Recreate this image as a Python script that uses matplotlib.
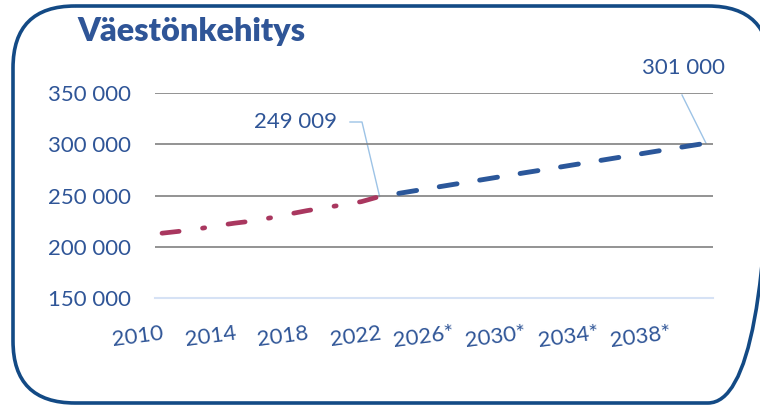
import numpy as np
import matplotlib
matplotlib.use("Agg")
import matplotlib.pyplot as plt
from matplotlib.patches import FancyBboxPatch

plt.rcParams['font.family'] = ['Lato', 'DejaVu Sans']
plt.rcParams['lines.scale_dashes'] = False

# data
hist_years = list(range(2010, 2023))
hist_values = [213217, 215168, 217421, 220446, 223004, 225118, 228274,
               231853, 235239, 238140, 241009, 244029, 249009]
proj_years = list(range(2022, 2041))
proj_values = [249009, 251900, 254800, 257700, 260600, 263500, 266400,
               269300, 272200, 275000, 277900, 280800, 283700, 286600,
               289500, 292400, 295300, 298200, 301000]
tick_years = list(range(2010, 2040, 4))
tick_labels = [str(y) if y <= 2022 else f"{y}*" for y in tick_years]
y_ticks = [150000, 200000, 250000, 300000, 350000]
title = "Väestönkehitys"

text_blue = '#2F5597'
line_blue = '#2B579A'
maroon = '#A9375F'
leader = '#9DC3E6'

W, H = 760, 408
fig = plt.figure(figsize=(W / 100, H / 100), dpi=100)

# background axes in pixel units for the rounded frame
bg = fig.add_axes([0, 0, 1, 1])
bg.set_xlim(0, W)
bg.set_ylim(H, 0)
bg.axis('off')
frame = FancyBboxPatch((13, 6), 757, 397,
                       boxstyle="round,pad=0,rounding_size=62",
                       fill=False, edgecolor='#134A85', linewidth=2.6)
bg.add_patch(frame)

bg.text(77, 32, title, fontsize=23.3, fontweight='heavy',
        color=text_blue, va='center', ha='left')

left, right, top, bottom = 155, 713, 93, 298
ax = fig.add_axes([left / W, 1 - bottom / H, (right - left) / W, (bottom - top) / H])
ax.patch.set_alpha(0)

ax.plot(hist_years, hist_values, color=maroon, lw=3.4,
        dashes=(12.4, 17.0, 1.6, 17.0), dash_capstyle='round',
        solid_capstyle='round', clip_on=False)
ax.plot(proj_years, proj_values, color=line_blue, lw=3.5,
        linestyle=(15.5, (13.0, 16.5)), dash_capstyle='round', clip_on=False)

ax.set_xlim(2010 - 7 / 18.13, 2040 + 7 / 18.13)
ax.set_ylim(150000, 350000)
ax.set_yticks(y_ticks)
ax.set_yticklabels([f"{v:,}".replace(",", " ") for v in y_ticks])
ax.set_xticks(tick_years)
ax.set_xticklabels(tick_labels, rotation=7.5, ha='right', va='top',
                   rotation_mode='anchor')
ax.tick_params(axis='both', length=0, labelsize=16, labelcolor=text_blue)
ax.tick_params(axis='y', pad=17)
ax.tick_params(axis='x', pad=18)

for s in ['top', 'right', 'left']:
    ax.spines[s].set_visible(False)
ax.spines['bottom'].set_color('#D6E2F5')
ax.spines['bottom'].set_linewidth(1.5)
for v in y_ticks[1:]:
    ax.axhline(v, color='#808080', lw=1.2, zorder=0)

# data labels with leader lines (pixel coords, top origin)
fig.canvas.draw()
inv = bg.transData.inverted()
p1 = inv.transform(ax.transData.transform((2022, 249009)))
p2 = inv.transform(ax.transData.transform((2040, 301000)))
bg.plot([350, 362, p1[0]], [122, 122, p1[1]], color=leader, lw=1.0)
bg.plot([682, p2[0]], [95, p2[1]], color=leader, lw=1.0)
bg.text(296, 122, "249 009", fontsize=16, color=text_blue,
        ha='center', va='center')
bg.text(683, 68, "301 000", fontsize=16, color=text_blue,
        ha='center', va='center')

fig.savefig("out.png", dpi=100)
